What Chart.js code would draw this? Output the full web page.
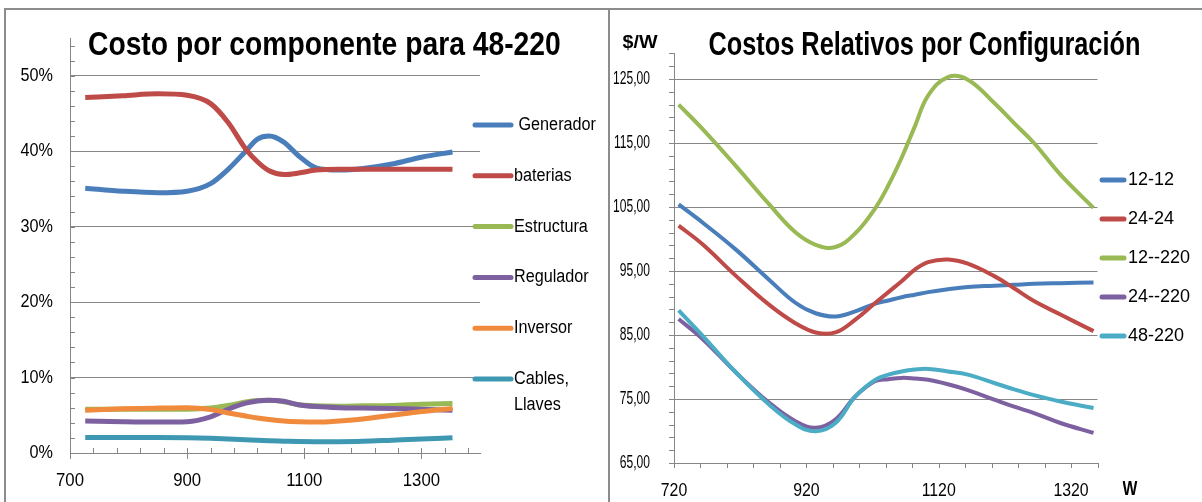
<!DOCTYPE html>
<html><head><meta charset="utf-8">
<script src="https://cdn.jsdelivr.net/npm/chart.js@4.4.1/dist/chart.umd.min.js"></script>
<style>
html,body{margin:0;padding:0;background:#fff;}
body{width:1202px;height:502px;position:relative;overflow:hidden;font-family:"Liberation Sans",Arial,sans-serif;}
.frame{position:absolute;background:#8c8c8c;z-index:5;}
.wrap{position:absolute;top:0;}
.t{position:absolute;white-space:nowrap;color:#000;font-weight:bold;line-height:1;z-index:6;}
</style></head><body>
<div class="frame" style="left:4px;top:8px;width:1198px;height:2px"></div>
<div class="frame" style="left:4px;top:8px;width:2px;height:494px"></div>
<div class="frame" style="left:608px;top:8px;width:2px;height:494px"></div>
<div class="wrap" style="left:0;width:608px;height:502px"><canvas id="c1" width="608" height="502"></canvas></div>
<div class="wrap" style="left:600px;width:602px;height:502px"><canvas id="c2" width="602" height="502"></canvas></div>
<div class="t" id="t1" style="top:26px;font-size:34px;">Costo por componente para 48-220</div>
<div class="t" id="t2" style="top:27px;font-size:33px;">Costos Relativos por Configuración</div>
<div class="t" id="t3" style="top:33px;font-size:18px;">$/W</div>
<div class="t" id="t4" style="top:477px;font-size:21px;">W</div>
<script>
// ---------- Left chart data (percent of cost, 48-220 configuration) ----------
const xLeft = [726, 790, 850, 900, 940, 970, 1000, 1020, 1040, 1065, 1090, 1120, 1160, 1200, 1250, 1300, 1353];
const generador = [35.1, 34.7, 34.5, 34.7, 35.7, 37.6, 40.0, 41.6, 42.0, 41.2, 39.4, 37.8, 37.5, 37.7, 38.3, 39.2, 39.9];
const baterias = [47.1, 47.35, 47.6, 47.4, 46.3, 43.8, 40.3, 38.6, 37.4, 36.9, 37.1, 37.5, 37.6, 37.6, 37.6, 37.6, 37.6];
const estructura = [5.8, 5.8, 5.8, 5.8, 5.95, 6.3, 6.75, 6.95, 7.0, 6.8, 6.4, 6.25, 6.2, 6.25, 6.3, 6.45, 6.55];
const regulador = [4.25, 4.15, 4.1, 4.15, 4.8, 5.8, 6.6, 6.9, 7.0, 6.85, 6.4, 6.15, 6.0, 5.95, 5.9, 5.8, 5.65];
const inversor = [5.65, 5.85, 5.95, 6.0, 5.75, 5.3, 4.9, 4.65, 4.45, 4.25, 4.15, 4.1, 4.25, 4.5, 5.0, 5.5, 5.9];
const cables = [2.05, 2.05, 2.05, 2.03, 1.95, 1.85, 1.75, 1.68, 1.62, 1.57, 1.52, 1.5, 1.5, 1.55, 1.7, 1.85, 2.03];
const leftLabels = [' Generador', 'baterias', 'Estructura', 'Regulador', 'Inversor', 'Cables,\nLlaves'];
const xTicksLeft = [700, 900, 1100, 1300];
const yTicksLeft = [0, 10, 20, 30, 40, 50];

// ---------- Right chart data ($/W) ----------
const xRight = [727, 764, 814, 864, 904, 934, 964, 994, 1024, 1044, 1064, 1084, 1104, 1134, 1164, 1204, 1234, 1264, 1304, 1354];
const c12_12 = [105.4, 102.5, 98.3, 93.6, 90.0, 88.4, 87.9, 88.7, 89.9, 90.4, 90.9, 91.3, 91.7, 92.15, 92.5, 92.7, 92.85, 93.0, 93.1, 93.2];
const c24_24 = [102.1, 99.1, 94.2, 89.7, 86.8, 85.4, 85.4, 87.4, 90.0, 91.7, 93.4, 95.2, 96.4, 96.8, 96.15, 94.2, 92.3, 90.3, 88.2, 85.6];
const c12_220 = [121.0, 117.1, 111.35, 105.4, 101.0, 99.1, 98.75, 100.9, 104.8, 108.4, 112.7, 117.6, 122.4, 125.3, 124.9, 121.25, 118.1, 115.0, 110.05, 104.85];
const c24_220 = [87.5, 84.3, 79.1, 74.4, 71.5, 70.5, 71.8, 75.4, 77.8, 78.1, 78.3, 78.2, 78.0, 77.3, 76.4, 74.9, 73.8, 72.8, 71.25, 69.7];
const c48_220 = [88.85, 84.8, 79.1, 74.1, 71.0, 69.95, 71.25, 75.4, 78.0, 78.8, 79.3, 79.6, 79.7, 79.3, 78.8, 77.5, 76.5, 75.6, 74.6, 73.6];
const rightLabels = ['12-12', '24-24', '12--220', '24--220', '48-220'];
const xTicksRight = [720, 920, 1120, 1320];
const yTicksRight = [65, 75, 85, 95, 105, 115, 125];

const FONT = '"Liberation Sans", Arial, sans-serif';
Chart.defaults.font.family = FONT;
Chart.defaults.color = '#000';
const GRID = '#868686';

// fit the HTML titles to the reference widths (horizontally condensed text)
function placeText(id, center, width) {
  const el = document.getElementById(id);
  const w = el.offsetWidth;
  el.style.left = (center - w / 2) + 'px';
  el.style.transform = 'scaleX(' + (width / w) + ')';
  el.style.transformOrigin = '50% 50%';
}
placeText('t1', 324.5, 473);
placeText('t2', 924, 432);
placeText('t3', 639.5, 35);
placeText('t4', 1130, 15);

const minorTicks = {
  id: 'minorTicks',
  beforeDatasetsDraw(chart, args, o) {
    const {ctx, chartArea: a, scales: {x, y}} = chart;
    ctx.save(); ctx.strokeStyle = GRID; ctx.lineWidth = 1; ctx.beginPath();
    for (let v = y.min; v <= y.max + 1e-9; v += o.yStep) {
      const p = Math.round(y.getPixelForValue(v)) + 0.5;
      ctx.moveTo(a.left + o.yFrom, p); ctx.lineTo(a.left + o.yTo, p);
    }
    for (let v = x.min; v <= x.max + 1e-9; v += o.xStep) {
      const p = Math.round(x.getPixelForValue(v)) + 0.5;
      const major = Math.abs((v - x.min) % o.xMajor) < 1e-6;
      ctx.moveTo(p, a.bottom + o.xFrom); ctx.lineTo(p, a.bottom + (major ? o.xMajorTo : o.xTo));
    }
    ctx.stroke(); ctx.restore();
  }
};

function fmtTick(v, kind) {
  if (kind === 'pct') return v + '%';
  if (kind === 'comma') return v.toFixed(2).replace('.', ',');
  return String(v);
}

// tick labels drawn at the library's scale positions, horizontally condensed
const narrowTicks = {
  id: 'narrowTicks',
  afterDraw(chart, args, o) {
    const {ctx, chartArea: a, scales: {x, y}} = chart;
    ctx.save(); ctx.fillStyle = '#000';
    ctx.font = o.yFont; ctx.textAlign = 'right'; ctx.textBaseline = 'middle';
    y.ticks.forEach(t => {
      ctx.save(); ctx.translate(a.left - o.yPad, y.getPixelForValue(t.value)); ctx.scale(o.ySx, 1);
      ctx.fillText(fmtTick(t.value, o.yKind), 0, 0); ctx.restore();
    });
    ctx.font = o.xFont; ctx.textAlign = 'center'; ctx.textBaseline = 'middle';
    x.ticks.forEach(t => {
      ctx.save(); ctx.translate(x.getPixelForValue(t.value), a.bottom + o.xPad); ctx.scale(o.xSx, 1);
      ctx.fillText(fmtTick(t.value, 'plain'), 0, 0); ctx.restore();
    });
    ctx.restore();
  }
};

const sideLegend = {
  id: 'sideLegend',
  afterDraw(chart, args, o) {
    const ctx = chart.ctx;
    ctx.save();
    ctx.font = o.font; ctx.textBaseline = 'middle'; ctx.textAlign = 'left'; ctx.lineCap = 'round';
    chart.data.datasets.forEach((ds, i) => {
      const y = o.y0 + i * o.dy;
      ctx.strokeStyle = ds.borderColor; ctx.lineWidth = o.lw;
      ctx.beginPath(); ctx.moveTo(o.x0, y); ctx.lineTo(o.x0 + o.len, y); ctx.stroke();
      ctx.fillStyle = '#000';
      ds.label.split('\n').forEach((t, k) => {
        ctx.save(); ctx.translate(o.x0 + o.len + o.gap, y + k * o.lh); ctx.scale(o.sx, 1);
        ctx.fillText(t, 0, 0); ctx.restore();
      });
    });
    ctx.restore();
  }
};

function mk(label, xs, ys, color, width, i, n, mode) {
  return {
    label, data: xs.map((x, k) => ({x, y: ys[k]})),
    borderColor: color, backgroundColor: color, borderWidth: width,
    pointRadius: 0, fill: false, cubicInterpolationMode: mode, tension: 0.4, order: n - i
  };
}

function axisX(min, max, ticks, h) {
  return {
    type: 'linear', min, max,
    afterBuildTicks: s => { s.ticks = ticks.map(v => ({value: v})); },
    afterFit: s => { s.height = h; },
    grid: { display: false, drawTicks: false },
    border: { display: true, color: GRID, width: 1 },
    ticks: { display: false }
  };
}
function axisY(min, max, ticks, w) {
  return {
    type: 'linear', min, max,
    afterBuildTicks: s => { s.ticks = ticks.map(v => ({value: v})); },
    afterFit: s => { s.width = w; },
    grid: { color: GRID, lineWidth: 1, drawTicks: false },
    border: { display: true, color: GRID, width: 1 },
    ticks: { display: false }
  };
}

const leftSeries = [generador, baterias, estructura, regulador, inversor, cables];
const leftColors = ['#4A7EBB', '#BE4B48', '#98B954', '#7D60A0', '#F08A3C', '#3E98B2'];
new Chart(document.getElementById('c1'), {
  type: 'line',
  data: { datasets: leftSeries.map((s, i) => mk(leftLabels[i], xLeft, s, leftColors[i], 5, i, leftSeries.length, 'monotone')) },
  options: {
    responsive: false, animation: false, devicePixelRatio: 1,
    layout: { padding: { left: 0, top: 38, right: 128, bottom: 0 } },
    plugins: {
      legend: { display: false }, tooltip: { enabled: false },
      minorTicks: { yStep: 2, yFrom: 0, yTo: 5, xStep: 40, xMajor: 200, xFrom: -5, xTo: 0, xMajorTo: 6 },
      narrowTicks: { yFont: '18px ' + FONT, ySx: 0.9, yPad: 17, yKind: 'pct', xFont: '18px ' + FONT, xSx: 0.93, xPad: 28 },
      sideLegend: { x0: 475, y0: 125, dy: 50.8, len: 36, gap: 3, lw: 5, lh: 26, sx: 0.9, font: '18px ' + FONT }
    },
    scales: { x: axisX(700, 1400, xTicksLeft, 49), y: axisY(0, 55, yTicksLeft, 70) }
  },
  plugins: [minorTicks, narrowTicks, sideLegend]
});

const rightSeries = [c12_12, c24_24, c12_220, c24_220, c48_220];
const rightColors = ['#4A7EBB', '#BE4B48', '#98B954', '#7D60A0', '#4BACC6'];
new Chart(document.getElementById('c2'), {
  type: 'line',
  data: { datasets: rightSeries.map((s, i) => mk(rightLabels[i], xRight, s, rightColors[i], 4, i, rightSeries.length, 'default')) },
  options: {
    responsive: false, animation: false, devicePixelRatio: 1,
    layout: { padding: { left: 0, top: 53.4, right: 104.5, bottom: 0 } },
    plugins: {
      legend: { display: false }, tooltip: { enabled: false },
      minorTicks: { yStep: 2, yFrom: -5, yTo: 0, xStep: 40, xMajor: 200, xFrom: 0, xTo: 5, xMajorTo: 5 },
      narrowTicks: { yFont: '18px ' + FONT, ySx: 0.67, yPad: 24, yKind: 'comma', xFont: '18px ' + FONT, xSx: 0.88, xPad: 28 },
      sideLegend: { x0: 502, y0: 180, dy: 39, len: 22, gap: 4, lw: 5, lh: 24, sx: 1.0, font: '18px ' + FONT }
    },
    scales: { x: axisX(720, 1360, xTicksRight, 39), y: axisY(65, 129, yTicksRight, 74) }
  },
  plugins: [minorTicks, narrowTicks, sideLegend]
});
</script>
</body></html>
